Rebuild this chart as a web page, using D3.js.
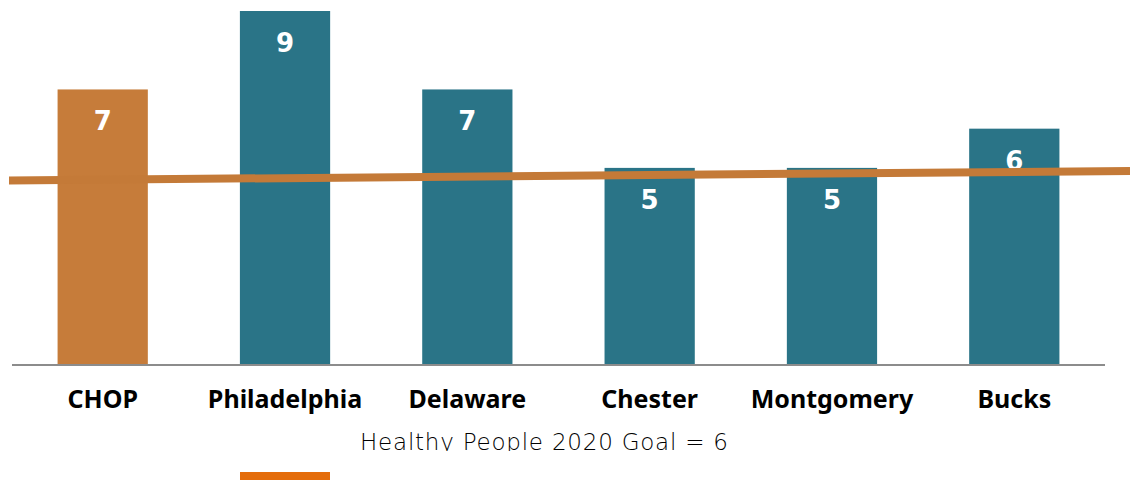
<!DOCTYPE html>
<html>
<head>
<meta charset="utf-8">
<script src="https://cdn.jsdelivr.net/npm/d3@7"></script>
<style>
  html, body { margin: 0; padding: 0; background: #fff; }
  svg { display: block; }
</style>
</head>
<body>
<svg id="chart" width="1130" height="481"></svg>
<script>
// ---- data ----
const categories = ["CHOP", "Philadelphia", "Delaware", "Chester", "Montgomery", "Bucks"];
const values = [7, 9, 7, 5, 5, 6];
const highlight = ["CHOP"];
// goal line as drawn in the source (value units at left / right ends of the plot)
const goalLineValues = [4.68, 4.92];
const legendLabel = ["Healthy People 2020 Goal = 6"];

// ---- styling ----
const teal = "#2A7487";
const orange = "#C67C3A";
const lineOrange = "#C47A38";
const legendOrange = "#E46C0A";

const svg = d3.select("#chart");
const W = 1130, H = 481;
const baseline = 364;

const x = d3.scaleBand().domain(categories).range([12, 1105]).paddingInner(0.505).paddingOuter(0.25);
const y = d3.scaleLinear().domain([0, 9]).range([baseline, 11]);
const xLine = d3.scaleLinear().domain([0, 1]).range([9, 1130]);

// bars
svg.append("g").selectAll("rect")
  .data(categories)
  .join("rect")
  .attr("x", d => x(d))
  .attr("width", x.bandwidth())
  .attr("y", (d, i) => y(values[i]))
  .attr("height", (d, i) => baseline - y(values[i]))
  .attr("fill", d => highlight.includes(d) ? orange : teal);

// value labels
svg.append("g").selectAll("text")
  .data(categories)
  .join("text")
  .attr("x", d => x(d) + x.bandwidth() / 2)
  .attr("y", (d, i) => y(values[i]) + 41)
  .attr("text-anchor", "middle")
  .attr("fill", "#fff")
  .attr("font-family", "'DejaVu Sans', sans-serif")
  .attr("font-weight", "bold")
  .attr("font-size", "26px")
  .text((d, i) => values[i]);

// goal line
svg.append("line")
  .attr("x1", xLine(0)).attr("x2", xLine(1))
  .attr("y1", y(goalLineValues[0])).attr("y2", y(goalLineValues[1]))
  .attr("stroke", lineOrange)
  .attr("stroke-width", 8);

// x axis
const xAxis = d3.axisBottom(x).tickSize(0).tickPadding(0);
const ax = svg.append("g").attr("transform", `translate(0,${baseline + 1})`).call(xAxis);
ax.select(".domain").attr("stroke", "#8c8c8c").attr("stroke-width", 2)
  .attr("d", "M12,0H1105");
ax.selectAll(".tick text")
  .attr("y", 43)
  .attr("dy", 0)
  .attr("fill", "#000")
  .attr("font-family", "'Noto Sans', sans-serif")
  .attr("font-weight", "bold")
  .attr("font-size", "25px");

// legend (text clipped at bottom as in source)
svg.append("defs").append("clipPath").attr("id", "legclip")
  .append("rect").attr("x", 0).attr("y", 420).attr("width", W).attr("height", 31);
svg.append("text")
  .attr("clip-path", "url(#legclip)")
  .attr("x", 360)
  .attr("y", 450)
  .attr("textLength", 368)
  .attr("lengthAdjust", "spacing")
  .attr("fill", "#000")
  .attr("font-family", "'DejaVu Sans', sans-serif")
  .attr("font-weight", 200)
  .attr("font-size", "23px")
  .text(legendLabel[0]);

svg.append("line")
  .attr("x1", 240).attr("x2", 330)
  .attr("y1", 476).attr("y2", 476)
  .attr("stroke", legendOrange)
  .attr("stroke-width", 8);
</script>
</body>
</html>
